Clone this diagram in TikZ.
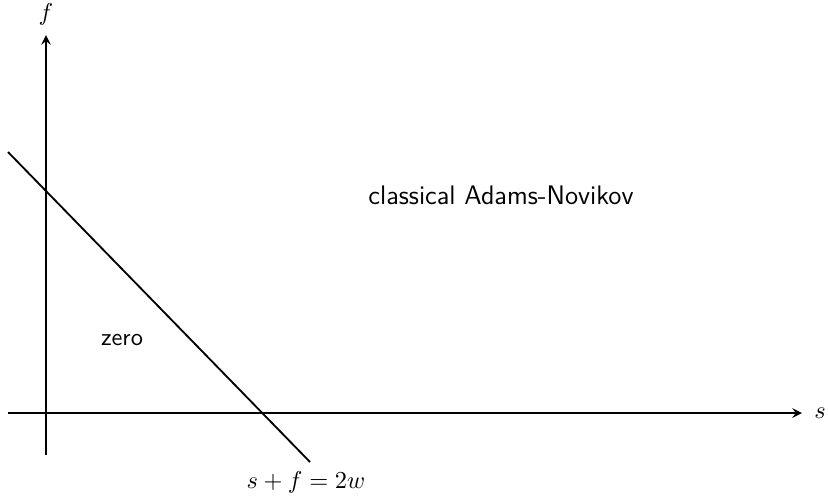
\documentclass[tikz,border=0pt]{standalone}
\usetikzlibrary{positioning}
\tikzset{
  axis/.style={line width=0.75pt,-stealth},
  edge/.style={line width=0.75pt},
  region/.style={font=\sffamily},
}
\begin{document}
\begin{tikzpicture}[x=0.41pt,y=-0.41pt]
      \useasboundingbox (0,0) rectangle (828,498);
      % axes
      \coordinate (fbot) at (46,455);
      \coordinate (ftop) at (46,35);
      \coordinate (sleft) at (8,413);
      \coordinate (sright) at (802,413);
      \draw[axis] (fbot) -- (ftop);
      \draw[axis] (sleft) -- (sright);
      \node (flabel) at (46,14) {$f$};
      \node (slabel) at (820,413) {$s$};
      % vanishing line
      \coordinate (lstart) at (8,152);
      \coordinate (lend) at (310,462);
      \draw[edge] (lstart) -- (lend);
      \node (linelabel) at (306,482) {$s+f=2w$};
      % regions
      \node[region] (zero) at (122,340) {zero};
      \node[region,font=\sffamily\fontsize{11}{13}\selectfont] (classical) at (501,195) {classical Adams-Novikov};
    \end{tikzpicture}
\end{document}
